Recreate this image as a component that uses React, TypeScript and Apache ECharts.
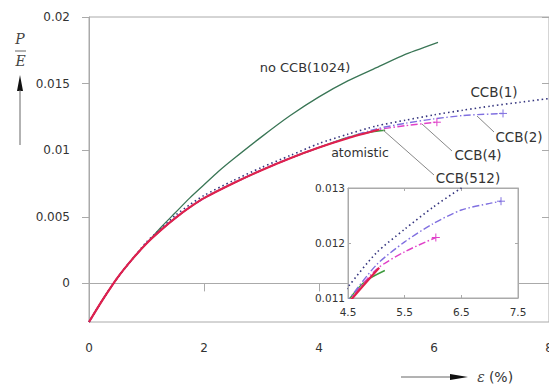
import React, { useEffect, useRef } from 'react';
import * as echarts from 'echarts';

const xTicks = [0, 2, 4, 6, 8];
const yTicks = [0, 0.005, 0.01, 0.015, 0.02];
const insetXTicks = [4.5, 5.5, 6.5, 7.5];
const insetYTicks = [0.011, 0.012, 0.013];

const noCCB: [number, number][] = [
  [0, -0.0029], [0.25, -0.00115], [0.5, 0.00045], [0.75, 0.0018], [1.0, 0.003],
  [1.25, 0.0042], [1.5, 0.0053], [1.75, 0.0064], [2.0, 0.0074], [2.25, 0.0084],
  [2.5, 0.0093], [3.0, 0.011], [3.5, 0.0126], [4.0, 0.014], [4.5, 0.0152],
  [5.0, 0.0162], [5.5, 0.0172], [6.07, 0.0181],
];
const atomistic: [number, number][] = [
  [0, -0.0029], [0.25, -0.00115], [0.5, 0.00045], [0.75, 0.0018], [1.0, 0.003],
  [1.25, 0.004], [1.5, 0.0049], [1.75, 0.0057], [2.0, 0.0064], [2.5, 0.0075],
  [3.0, 0.0085], [3.5, 0.0094], [4.0, 0.0102], [4.5, 0.0109], [5.05, 0.01155],
];
const ccb512: [number, number][] = [
  [0, -0.0029], [0.25, -0.00115], [0.5, 0.00045], [0.75, 0.0018], [1.0, 0.003],
  [1.25, 0.004], [1.5, 0.0049], [1.75, 0.0057], [2.0, 0.0064], [2.5, 0.0075],
  [3.0, 0.0085], [3.5, 0.0094], [4.0, 0.0102], [4.5, 0.01095], [4.8, 0.0113],
  [5.15, 0.0115],
];
const ccb4: [number, number][] = [
  [0, -0.0029], [0.25, -0.00115], [0.5, 0.00045], [0.75, 0.0018], [1.0, 0.003],
  [1.25, 0.004], [1.5, 0.0049], [1.75, 0.0057], [2.0, 0.0064], [2.5, 0.0075],
  [3.0, 0.0085], [3.5, 0.0094], [4.0, 0.0102], [4.5, 0.01092], [5.0, 0.01152],
  [5.5, 0.01184], [6.05, 0.0121],
];
const ccb2: [number, number][] = [
  [0, -0.0029], [0.25, -0.00115], [0.5, 0.00045], [0.75, 0.0018], [1.0, 0.003],
  [1.25, 0.004], [1.5, 0.0049], [1.75, 0.0057], [2.0, 0.0064], [2.5, 0.0075],
  [3.0, 0.0085], [3.5, 0.0094], [4.0, 0.0102], [4.5, 0.01095], [5.0, 0.0116],
  [5.5, 0.01202], [6.0, 0.01235], [6.5, 0.0126], [7.0, 0.01272], [7.2, 0.01276],
];
const ccb1: [number, number][] = [
  [0, -0.0029], [0.25, -0.00115], [0.5, 0.00045], [0.75, 0.0018], [1.0, 0.0031],
  [1.25, 0.0041], [1.5, 0.0051], [1.75, 0.0059], [2.0, 0.0066], [2.5, 0.0077],
  [3.0, 0.0087], [3.5, 0.0096], [4.0, 0.0105], [4.5, 0.0112], [5.0, 0.01182],
  [5.5, 0.01225], [6.0, 0.01265], [6.5, 0.013], [7.0, 0.01332], [7.5, 0.0136],
  [8.0, 0.01388],
];

const FONT = '"DejaVu Sans", sans-serif';
const AXIS = '#aaaaaa';
const TXT = '#333333';
const PLUS = 'path://M0,5L10,5M5,0L5,10';

const styles: Record<string, { color: string; width: number; type: any; plus: boolean }> = {
  noCCB: { color: '#3a7656', width: 1.3, type: 'solid', plus: false },
  ccb512: { color: '#3d9a3d', width: 1.4, type: 'solid', plus: false },
  ccb4: { color: '#e040c8', width: 1.4, type: [7, 2.5, 1.5, 2.5], plus: true },
  ccb2: { color: '#8070e0', width: 1.4, type: [7, 2.5, 1.5, 2.5], plus: true },
  ccb1: { color: '#34347e', width: 1.6, type: [1.5, 3], plus: false },
  atomistic: { color: '#e0204e', width: 2.2, type: 'solid', plus: false },
};

function mkSeries(name: string, key: string, data: [number, number][], inset: boolean) {
  const s = styles[key];
  const items = data.map((d, i) =>
    s.plus && i === data.length - 1
      ? {
          value: d,
          symbol: PLUS,
          symbolSize: 8,
          itemStyle: { color: 'none', borderColor: s.color, borderWidth: 1 },
        }
      : { value: d },
  );
  return {
    name,
    type: 'line',
    data: items,
    xAxisIndex: inset ? 1 : 0,
    yAxisIndex: inset ? 2 : 0,
    symbol: 'none',
    showSymbol: true,
    showAllSymbol: true,
    smooth: 0.25,
    clip: true,
    z: inset ? 6 : 2,
    lineStyle: { color: s.color, width: s.width, type: s.type },
    itemStyle: { color: s.color },
  };
}

export default function App() {
  const ref = useRef<HTMLDivElement>(null);
  useEffect(() => {
    if (!ref.current) return;
    const chart = echarts.init(ref.current, undefined, { renderer: 'svg' });
    const lab = (size: number, margin: number, custom: number[] | null, show = true) => ({
      show,
      fontSize: size,
      color: TXT,
      fontFamily: FONT,
      margin,
      ...(custom ? { customValues: custom } : {}),
      formatter: (v: number) => String(Number(v.toPrecision(6))),
    });
    const allSeries: [string, string, [number, number][]][] = [
      ['no CCB(1024)', 'noCCB', noCCB],
      ['CCB(512)', 'ccb512', ccb512],
      ['CCB(4)', 'ccb4', ccb4],
      ['CCB(2)', 'ccb2', ccb2],
      ['CCB(1)', 'ccb1', ccb1],
      ['atomistic', 'atomistic', atomistic],
    ];
    const series: any[] = [];
    allSeries.forEach(([n, k, d]) => series.push(mkSeries(n, k, d, false)));
    allSeries
      .filter(([, k]) => k !== 'noCCB')
      .forEach(([n, k, d]) => series.push(mkSeries(n, k, d, true)));

    const text = (t: string, x: number, y: number, size = 13, extra: any = {}) => ({
      type: 'text',
      x,
      y,
      z: 100,
      style: {
        text: t,
        fill: TXT,
        font: `${size}px ${FONT}`,
        align: 'center',
        verticalAlign: 'middle',
        ...extra,
      },
    });
    const line = (x1: number, y1: number, x2: number, y2: number, stroke = '#888', w = 1) => ({
      type: 'line',
      z: 100,
      shape: { x1, y1, x2, y2 },
      style: { stroke, lineWidth: w },
    });

    const option: any = {
      animation: false,
      backgroundColor: '#ffffff',
      grid: [
        {
          left: 89, top: 17, right: 0, bottom: 63, show: true, borderColor: AXIS, borderWidth: 1,
          z: 0, outerBoundsMode: 'none', containLabel: false,
        },
        {
          left: 348, top: 188, width: 170, height: 110, show: true,
          borderColor: AXIS, borderWidth: 1, backgroundColor: '#ffffff', z: 4,
          outerBoundsMode: 'none', containLabel: false,
        },
      ],
      xAxis: [
        {
          gridIndex: 0, type: 'value', min: 0, max: 8, interval: 2,
          axisLine: { show: true, lineStyle: { color: AXIS } },
          axisTick: { show: true, length: 8, lineStyle: { color: AXIS } },
          axisLabel: lab(12, 20, xTicks),
          splitLine: { show: false },
        },
        {
          gridIndex: 1, type: 'value', min: 4.5, max: 7.5, position: 'bottom', z: 5,
          axisLine: { show: true, lineStyle: { color: AXIS } },
          axisTick: { show: true, inside: true, length: 3, customValues: insetXTicks, lineStyle: { color: AXIS } },
          axisLabel: lab(10.5, 8, insetXTicks),
          splitLine: { show: false },
        },
        {
          gridIndex: 1, type: 'value', min: 4.5, max: 7.5, position: 'top', z: 5,
          axisLine: { show: true, lineStyle: { color: AXIS } },
          axisTick: { show: true, inside: true, length: 3, customValues: insetXTicks, lineStyle: { color: AXIS } },
          axisLabel: { show: false },
          splitLine: { show: false },
        },
      ],
      yAxis: [
        {
          gridIndex: 0, type: 'value', min: -0.0029, max: 0.02,
          axisLine: { show: true, lineStyle: { color: AXIS } },
          axisTick: { show: true, length: 7, customValues: yTicks, lineStyle: { color: AXIS } },
          axisLabel: lab(12, 19, yTicks),
          splitLine: { show: false },
        },
        {
          gridIndex: 0, type: 'value', min: -0.0029, max: 0.02, position: 'right',
          axisLine: { show: true, lineStyle: { color: AXIS } },
          axisTick: { show: true, inside: true, length: 7, customValues: yTicks, lineStyle: { color: AXIS } },
          axisLabel: { show: false },
          splitLine: { show: false },
        },
        {
          gridIndex: 1, type: 'value', min: 0.011, max: 0.013, position: 'left', z: 5,
          axisLine: { show: true, lineStyle: { color: AXIS } },
          axisTick: { show: true, inside: true, length: 3, customValues: insetYTicks, lineStyle: { color: AXIS } },
          axisLabel: lab(10.5, 3, insetYTicks),
          splitLine: { show: false },
        },
        {
          gridIndex: 1, type: 'value', min: 0.011, max: 0.013, position: 'right', z: 5,
          axisLine: { show: true, lineStyle: { color: AXIS } },
          axisTick: { show: true, inside: true, length: 3, customValues: insetYTicks, lineStyle: { color: AXIS } },
          axisLabel: { show: false },
          splitLine: { show: false },
        },
      ],
      series,
      graphic: [
        text('no CCB(1024)', 305, 67, 13),
        text('CCB(1)', 494, 92, 13.5),
        text('CCB(2)', 519, 137, 13.5),
        text('CCB(4)', 478, 155, 13.5),
        text('CCB(512)', 468, 178, 13.5),
        text('atomistic', 360, 152, 12.5),
        line(477, 116, 494, 132),
        line(422, 124, 452, 151),
        line(383, 130, 434, 175),
        text('P', 20, 39, 14, { font: `italic 14px "DejaVu Serif", serif`, fill: '#444' }),
        line(15, 51, 26, 51, '#666', 1),
        text('E', 20.5, 61, 14, { font: `italic 14px "DejaVu Serif", serif`, fill: '#444' }),
        {
          type: 'polygon', z: 100,
          shape: { points: [[20, 75], [17, 91], [23, 91]] },
          style: { fill: '#111' },
        },
        line(20, 90, 20, 145, '#666', 1),
        line(401, 377, 456, 377, '#666', 1),
        {
          type: 'polygon', z: 100,
          shape: { points: [[468, 377], [450, 374], [450, 380]] },
          style: { fill: '#111' },
        },
        text('ε', 481, 377, 14, { font: `italic 14px "DejaVu Serif", serif`, fill: '#444' }),
        text('(%)', 501, 377, 14),
      ],
    };
    chart.setOption(option);
    return () => chart.dispose();
  }, []);
  return (
    <div
      ref={ref}
      style={{ position: 'absolute', left: 0, top: 0, width: 549, height: 385 }}
    />
  );
}
